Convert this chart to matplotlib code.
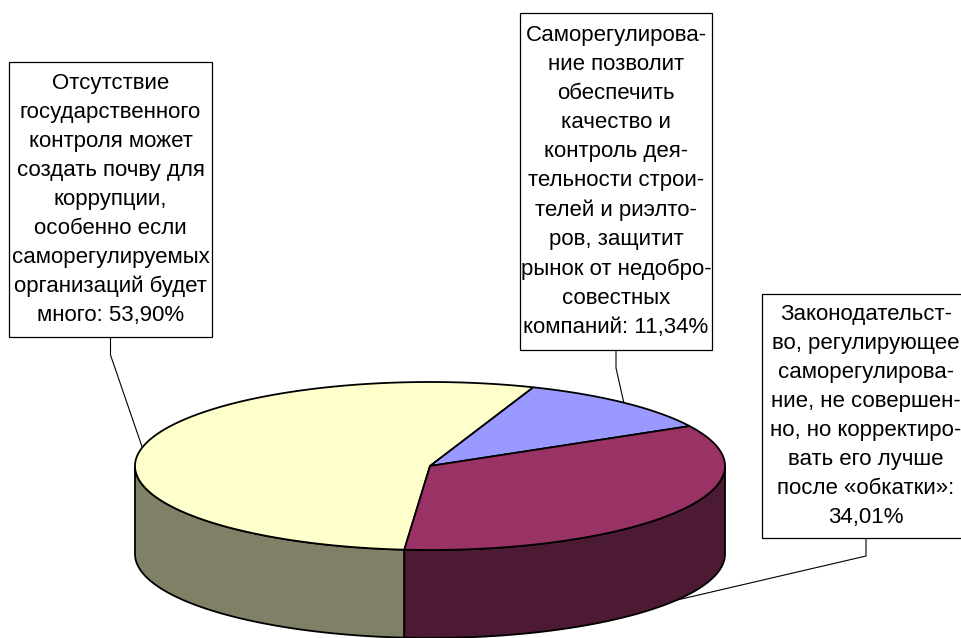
"""
3D pie: отношение к саморегулированию
"""

import numpy as np
import matplotlib.pyplot as plt
from matplotlib.patches import Polygon, Rectangle

plt.rcParams['font.family'] = ['Liberation Sans', 'DejaVu Sans']

# данные
values = [53.90, 11.34, 34.01]
label_texts = [
    "Отсутствие\nгосударственного\nконтроля может\nсоздать почву для\nкоррупции,\n"
    "особенно если\nсаморегулируемых\nорганизаций будет\nмного: ",
    "Саморегулирова-\nние позволит\nобеспечить\nкачество и\nконтроль дея-\n"
    "тельности строи-\nтелей и риэлто-\nров, защитит\nрынок от недобро-\nсовестных\nкомпаний: ",
    "Законодательст-\nво, регулирующее\nсаморегулирова-\nние, не совершен-\n"
    "но, но корректиро-\nвать его лучше\nпосле «обкатки»:\n",
]
top_colors = ['#FFFFCC', '#9999FF', '#993366']
side_colors = ['#808066', '#4D4D80', '#4D1A33']

# геометрия (в пикселях)
CX, CY = 430, 466
RX, RY = 295, 84
DEPTH = 88
START = 265.0

# рамки подписей: x0, y0, x1, y1
boxes = [(9, 62, 212, 337), (520, 13, 712, 350), (762, 294, 970, 538)]


def rim(t0, t1, dy=0, n=200):
    t = np.radians(np.linspace(t0, t1, n))
    return np.column_stack([CX + RX * np.cos(t), CY - RY * np.sin(t) + dy])


fig = plt.figure(figsize=(9.61, 6.38), dpi=100)
ax = fig.add_axes([0, 0, 1, 1])
ax.set_xlim(0, 961)
ax.set_ylim(638, 0)
ax.axis('off')

fracs = np.array(values) / sum(values)
ends = START - 360 * np.cumsum(fracs)
starts = np.concatenate([[START], ends[:-1]])

# боковые стенки (только передняя половина)
for s, e, col in zip(starts, ends, side_colors):
    for f0, f1 in [(180, 360), (-180, 0)]:
        lo, hi = max(e, f0), min(s, f1)
        if hi <= lo:
            continue
        pts = np.vstack([rim(lo, hi), rim(hi, lo, DEPTH)])
        ax.add_patch(Polygon(pts, closed=True, facecolor=col,
                             edgecolor='black', lw=1.3, zorder=1))

# верхние сектора
for s, e, col in zip(starts, ends, top_colors):
    pts = np.vstack([[CX, CY], rim(s, e)])
    ax.add_patch(Polygon(pts, closed=True, facecolor=col,
                         edgecolor='black', lw=1.3, zorder=2))

# подписи с выносками
for s, e, v, txt, (x0, y0, x1, y1) in zip(starts, ends, values, label_texts, boxes):
    ax.add_patch(Rectangle((x0, y0), x1 - x0, y1 - y0, facecolor='white',
                           edgecolor='black', lw=0.9, zorder=3))
    label = txt + f"{v:.2f}".replace('.', ',') + '%'
    ax.text((x0 + x1) / 2, (y0 + y1) / 2, label, ha='center', va='center',
            fontsize=16, linespacing=1.5, zorder=4)

    mid = np.radians((s + e) / 2)
    px = CX + RX * np.cos(mid)
    py = CY - RY * np.sin(mid) + (DEPTH if np.sin(mid) < 0 else 0)
    bx = (x0 + x1) / 2
    ax.plot([bx, bx, px], [y1, y1 + 18, py], color='black', lw=0.8, zorder=0.5)

plt.savefig('out.png', dpi=100)
